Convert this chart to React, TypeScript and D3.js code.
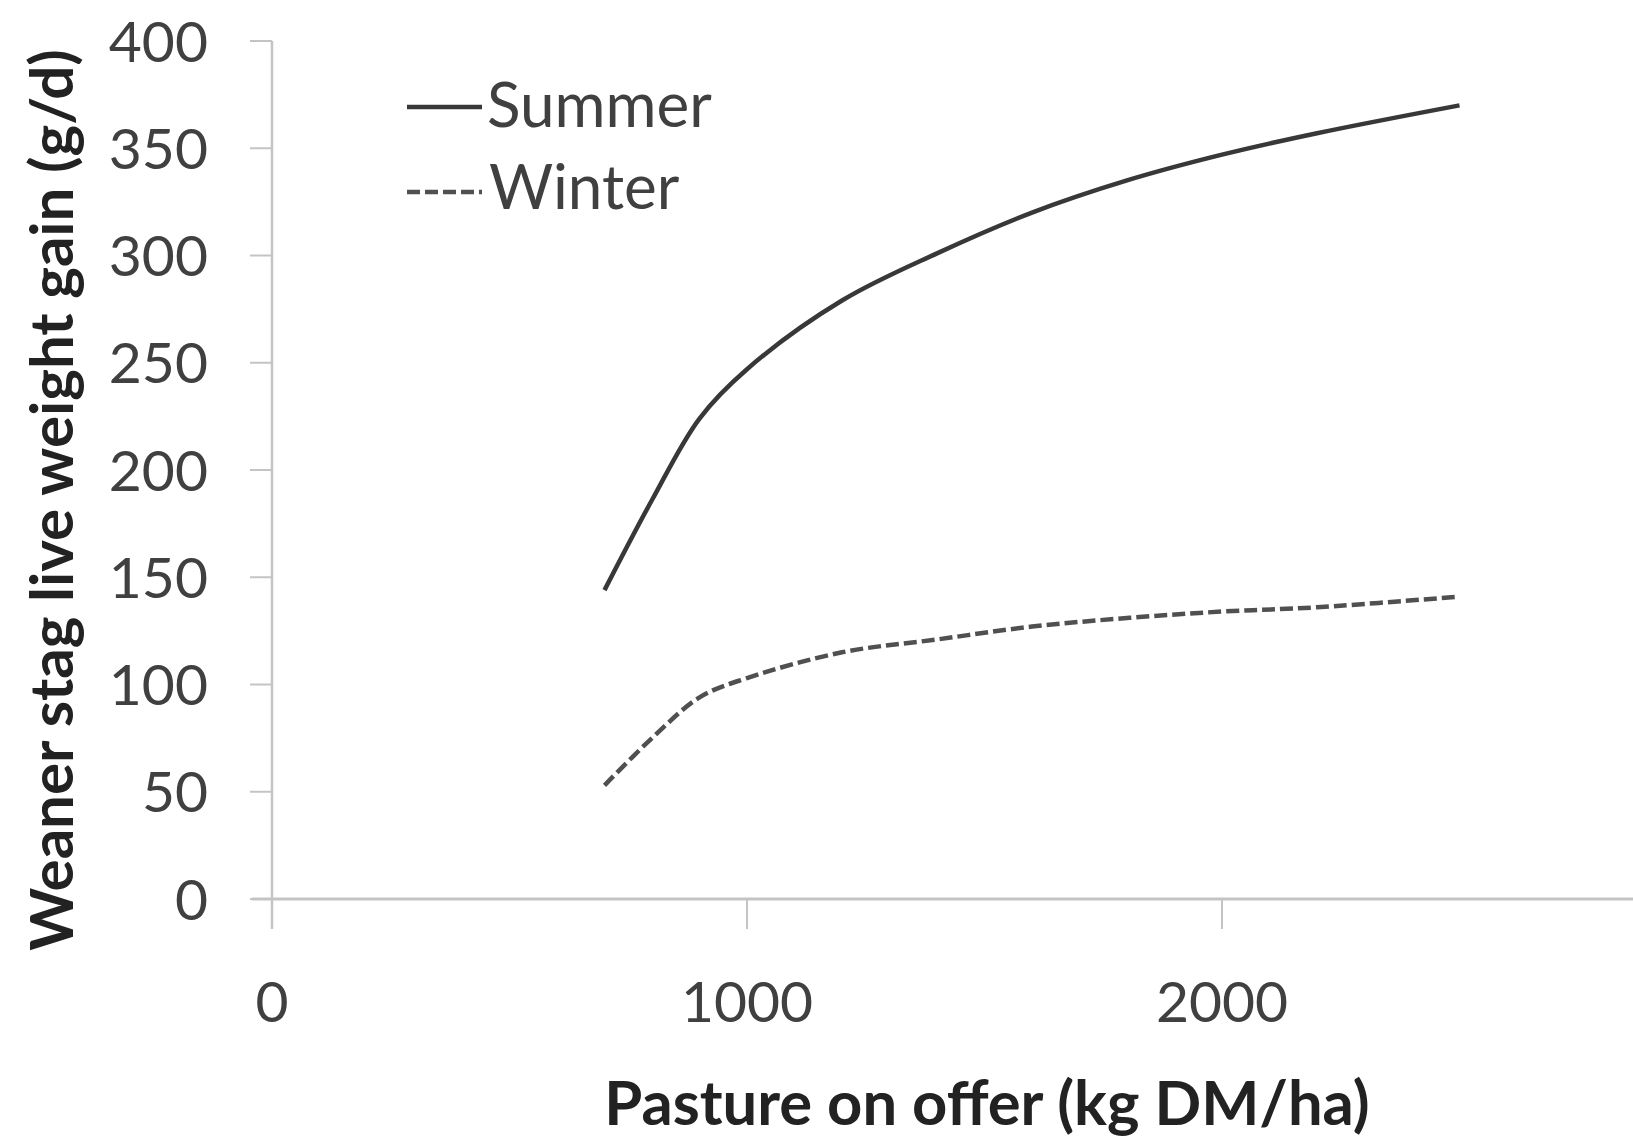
import React from "react";
import * as d3 from "d3";

const pastureOffer = [700, 800, 900, 1000, 1200, 1400, 1600, 1800, 2000, 2200, 2500];
const summerGain = [144, 186, 224, 247, 279, 301, 320, 335, 347, 357, 370];
const winterGain = [53, 75, 94, 103, 115, 121, 127, 131, 134, 136, 141];
const xTicks = [0, 1000, 2000, 3000];
const yTicks = [0, 50, 100, 150, 200, 250, 300, 350, 400];
const seriesNames = ["Summer", "Winter"];

const W = 1633;
const H = 1138;

export default function App() {
  const x = d3.scaleLinear().domain([0, 3000]).range([272, 1697]);
  const y = d3.scaleLinear().domain([0, 400]).range([899, 41]);

  const line = d3
    .line<number>()
    .x((_, i) => x(pastureOffer[i]))
    .y((d) => y(d))
    .curve(d3.curveCatmullRom.alpha(0.5));

  const axisColor = "#c4c4c4";
  const textColor = "#404040";
  const font = "Lato, 'Open Sans', sans-serif";
  const dash = "13 5";

  return (
    <div style={{ position: "absolute", left: 0, top: 0 }}>
      <svg width={W} height={H} viewBox={`0 0 ${W} ${H}`} style={{ display: "block", background: "#fff" }}>
        {/* axes */}
        <line x1={x(0)} x2={x(0)} y1={y(400)} y2={y(0) + 30} stroke={axisColor} strokeWidth={2.5} />
        <line x1={x(0) - 20} x2={W} y1={y(0)} y2={y(0)} stroke={axisColor} strokeWidth={3} />
        {yTicks.map((t) => (
          <g key={"yt" + t}>
            <line x1={x(0) - 22} x2={x(0)} y1={y(t)} y2={y(t)} stroke={axisColor} strokeWidth={2} />
            <text
              x={208}
              y={y(t)}
              dy="0.36em"
              textAnchor="end"
              fontFamily={font}
              fontSize={57}
              fill={textColor}
            >
              {t}
            </text>
          </g>
        ))}
        {xTicks.map((t) => (
          <g key={"xt" + t}>
            <line x1={x(t)} x2={x(t)} y1={y(0)} y2={y(0) + 30} stroke={axisColor} strokeWidth={2} />
            <text
              x={x(t)}
              y={1022}
              textAnchor="middle"
              fontFamily={font}
              fontSize={57}
              fill={textColor}
            >
              {t}
            </text>
          </g>
        ))}

        {/* series */}
        <path d={line(summerGain) || ""} fill="none" stroke="#383838" strokeWidth={4.5} />
        <path
          d={line(winterGain) || ""}
          fill="none"
          stroke="#505050"
          strokeWidth={4.5}
          strokeDasharray={dash}
        />

        {/* legend */}
        <line x1={407} x2={482} y1={107} y2={107} stroke="#383838" strokeWidth={4.5} />
        <text x={487} y={127} fontFamily={font} fontSize={62} fill={textColor}>
          {seriesNames[0]}
        </text>
        <line x1={407} x2={482} y1={192} y2={192} stroke="#505050" strokeWidth={4.5} strokeDasharray={dash} />
        <text x={489} y={209} fontFamily={font} fontSize={62} fill={textColor}>
          {seriesNames[1]}
        </text>

        {/* axis titles */}
        <text
          x={987}
          y={1125}
          textAnchor="middle"
          fontFamily={font}
          fontWeight="bold"
          fontSize={61.5}
          fill="#222"
        >
          Pasture on offer (kg DM/ha)
        </text>
        <text
          transform={`translate(73, 500) rotate(-90)`}
          textAnchor="middle"
          fontFamily={font}
          fontWeight="bold"
          fontSize={60}
          fill="#222"
        >
          Weaner stag live weight gain (g/d)
        </text>
      </svg>
    </div>
  );
}
